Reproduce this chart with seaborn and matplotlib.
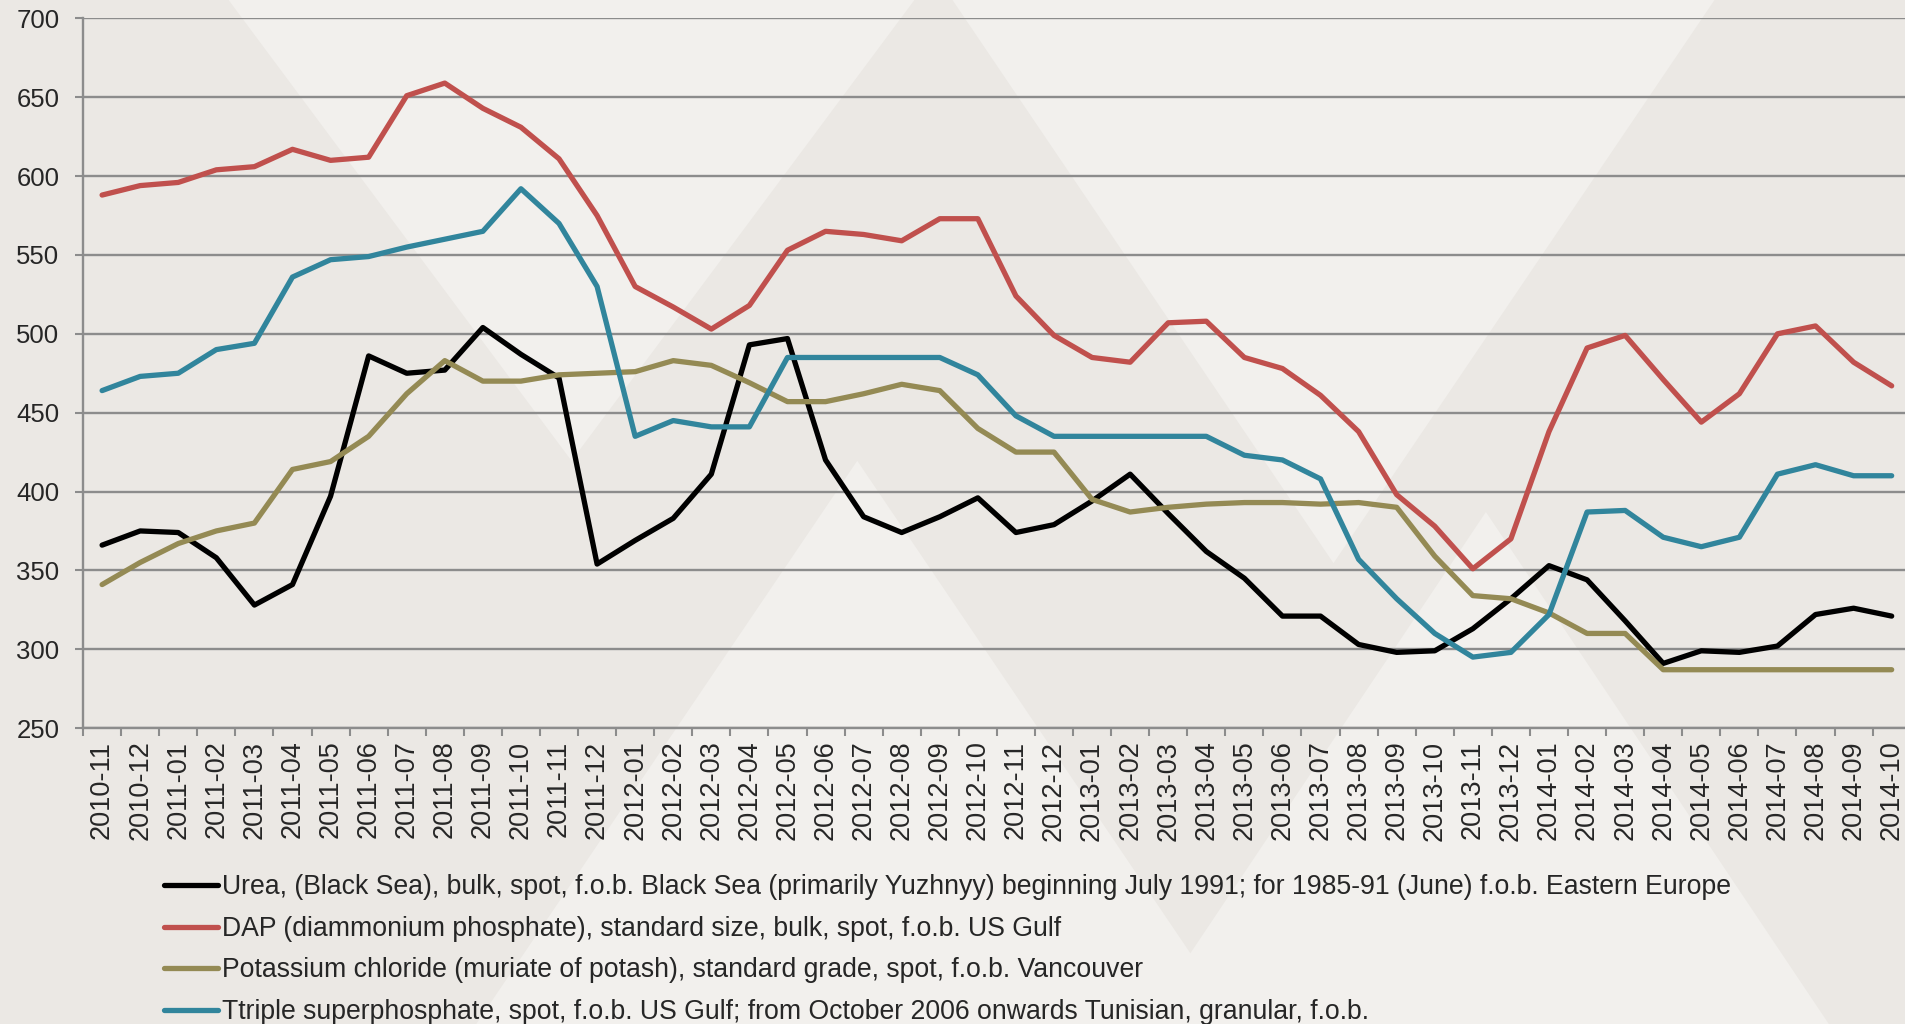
import matplotlib
matplotlib.use("Agg")
import matplotlib.pyplot as plt
from matplotlib.patches import Polygon
import seaborn as sns
import numpy as np
import pandas as pd

months = ["2010-11", "2010-12", "2011-01", "2011-02", "2011-03", "2011-04", "2011-05", "2011-06",
          "2011-07", "2011-08", "2011-09", "2011-10", "2011-11", "2011-12", "2012-01", "2012-02",
          "2012-03", "2012-04", "2012-05", "2012-06", "2012-07", "2012-08", "2012-09", "2012-10",
          "2012-11", "2012-12", "2013-01", "2013-02", "2013-03", "2013-04", "2013-05", "2013-06",
          "2013-07", "2013-08", "2013-09", "2013-10", "2013-11", "2013-12", "2014-01", "2014-02",
          "2014-03", "2014-04", "2014-05", "2014-06", "2014-07", "2014-08", "2014-09", "2014-10"]

urea = [366, 375, 374, 358, 328, 341, 397, 486, 475, 477, 504, 487,
        472, 354, 369, 383, 411, 493, 497, 420, 384, 374, 384, 396,
        374, 379, 394, 411, 386, 362, 345, 321, 321, 303, 298, 299,
        313, 332, 353, 344, 318, 291, 299, 298, 302, 322, 326, 321]

dap = [588, 594, 596, 604, 606, 617, 610, 612, 651, 659, 643, 631,
       611, 575, 530, 517, 503, 518, 553, 565, 563, 559, 573, 573,
       524, 499, 485, 482, 507, 508, 485, 478, 461, 438, 398, 378,
       351, 370, 438, 491, 499, 471, 444, 462, 500, 505, 482, 467]

potash = [341, 355, 367, 375, 380, 414, 419, 435, 462, 483, 470, 470,
          474, 475, 476, 483, 480, 469, 457, 457, 462, 468, 464, 440,
          425, 425, 395, 387, 390, 392, 393, 393, 392, 393, 390, 359,
          334, 332, 323, 310, 310, 287, 287, 287, 287, 287, 287, 287]

tsp = [464, 473, 475, 490, 494, 536, 547, 549, 555, 560, 565, 592,
       570, 530, 435, 445, 441, 441, 485, 485, 485, 485, 485, 474,
       448, 435, 435, 435, 435, 435, 423, 420, 408, 357, 332, 310,
       295, 298, 322, 387, 388, 371, 365, 371, 411, 417, 410, 410]

labels = [
    "Urea, (Black Sea), bulk, spot, f.o.b. Black Sea (primarily Yuzhnyy) beginning July 1991; for 1985-91 (June) f.o.b. Eastern Europe",
    "DAP (diammonium phosphate), standard size, bulk, spot, f.o.b. US Gulf",
    "Potassium chloride (muriate of potash), standard grade, spot, f.o.b. Vancouver",
    "Ttriple superphosphate, spot, f.o.b. US Gulf; from October 2006 onwards Tunisian, granular, f.o.b.",
]
colors = ["#000000", "#c0504d", "#948a54", "#31859c"]

df = pd.DataFrame({
    "x": list(range(len(months))) * 4,
    "price": urea + dap + potash + tsp,
    "series": np.repeat(labels, len(months)),
})

sns.set_theme(style="white")
plt.rcParams["font.family"] = ["Liberation Sans", "DejaVu Sans"]

bg = "#ebe8e4"
fig = plt.figure(figsize=(19.05, 10.24), dpi=100, facecolor=bg)

# faint diamond pattern behind everything
for pts in [[(0.12, 1.0), (0.30, 0.55), (0.48, 1.0)],
            [(0.50, 1.0), (0.70, 0.45), (0.90, 1.0)],
            [(0.25, 0.0), (0.45, 0.55), (0.65, 0.0)],
            [(0.60, 0.0), (0.78, 0.50), (0.96, 0.0)]]:
    fig.patches.append(Polygon(pts, closed=True, transform=fig.transFigure,
                               facecolor="#f2f0ed", edgecolor="none", zorder=-5))

ax = fig.add_axes([0.0436, 0.289, 0.9594, 0.693])
ax.set_facecolor("none")

sns.lineplot(data=df, x="x", y="price", hue="series", hue_order=labels,
             palette=colors, linewidth=3.8, ax=ax, legend=True)

ax.set_xlim(-0.5, len(months) - 0.5)
ax.set_ylim(250, 700)
ax.set_yticks(range(250, 701, 50))
ax.yaxis.grid(True, color="#8c8c8c", linewidth=1.7)
ax.xaxis.grid(False)

ax.set_xticks(range(len(months)))
ax.set_xticklabels(months, rotation=90, fontsize=19.5)
ax.set_xticks(np.arange(-0.5, len(months), 1.0), minor=True)
ax.tick_params(axis="x", which="major", length=0, pad=9)
ax.tick_params(axis="x", which="minor", length=6, width=1.5, color="#8c8c8c", direction="out", bottom=True)
ax.tick_params(axis="y", labelsize=18.5, length=6, width=1.5, color="#8c8c8c", left=True, pad=11)

ax.set_xlabel("")
ax.set_ylabel("")
for side in ["top", "right"]:
    ax.spines[side].set_visible(False)
for side in ["left", "bottom"]:
    ax.spines[side].set_color("#8c8c8c")
    ax.spines[side].set_linewidth(1.7)

handles, lbls = ax.get_legend_handles_labels()
ax.get_legend().remove()
fig.legend(handles, lbls, loc="upper left", bbox_to_anchor=(0.086, 0.146),
           frameon=False, fontsize=19.2, handlelength=2.05, handletextpad=0.15,
           labelspacing=0.58, borderpad=0, borderaxespad=0)

fig.savefig("out.png", dpi=100, facecolor=bg)
